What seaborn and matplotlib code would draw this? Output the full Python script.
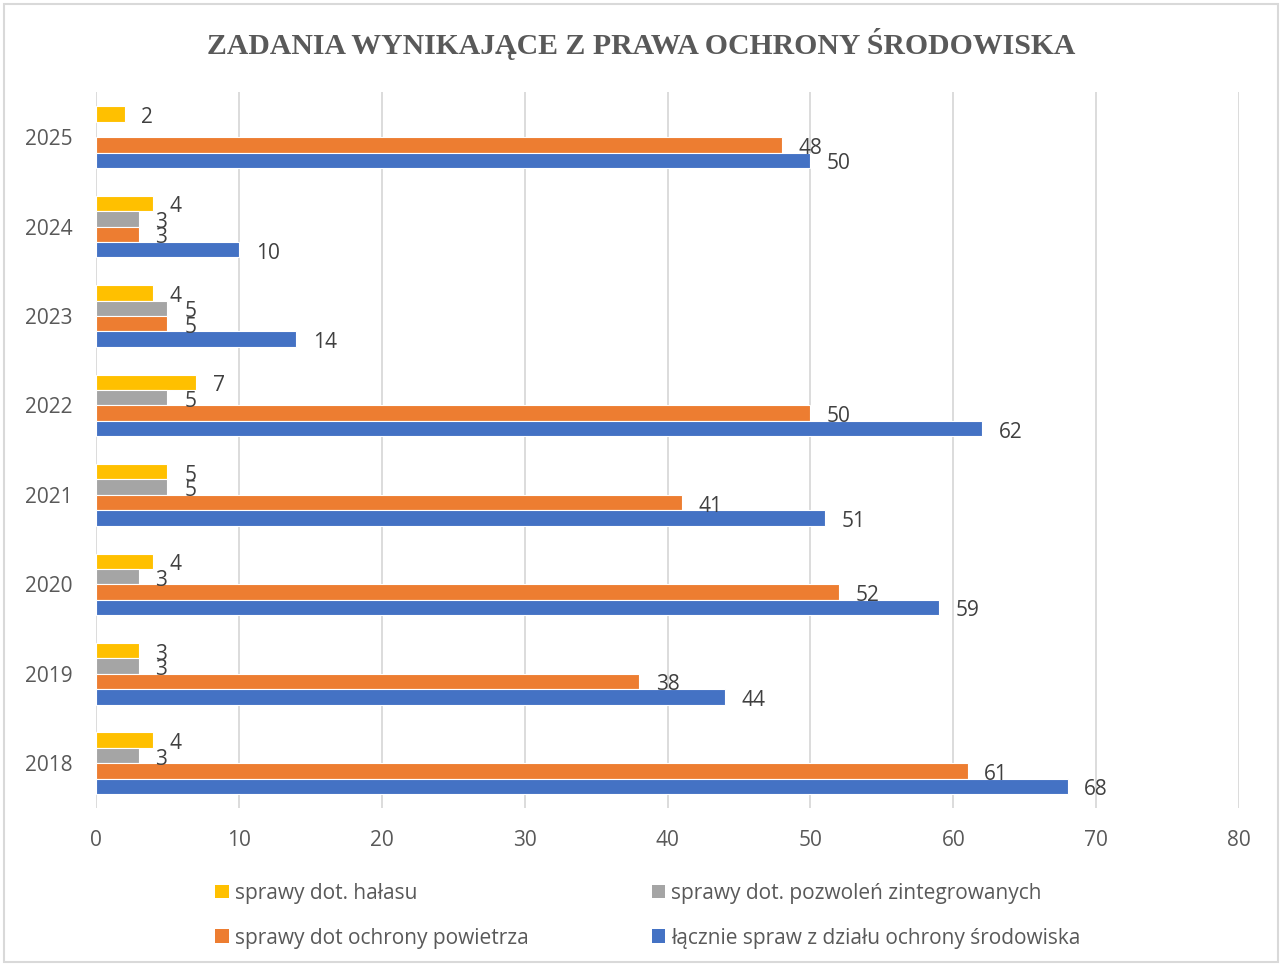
import matplotlib
matplotlib.use("Agg")
import matplotlib.pyplot as plt
import matplotlib.patches as mpatches
import seaborn as sns
import pandas as pd
import numpy as np

# --- data -----------------------------------------------------------------
years = ["2025", "2024", "2023", "2022", "2021", "2020", "2019", "2018"]
series = [
    "sprawy dot. hałasu",
    "sprawy dot. pozwoleń zintegrowanych",
    "sprawy dot ochrony powietrza",
    "łącznie spraw z działu ochrony środowiska",
]
halas = [2, 4, 4, 7, 5, 4, 3, 4]
pozwolenia = [np.nan, 3, 5, 5, 5, 3, 3, 3]
powietrze = [48, 3, 5, 50, 41, 52, 38, 61]
lacznie = [50, 10, 14, 62, 51, 59, 44, 68]
x_ticks = [0, 10, 20, 30, 40, 50, 60, 70, 80]

colors = ["#FFC000", "#A5A5A5", "#ED7D31", "#4472C4"]

rows = []
for name, vals in zip(series, [halas, pozwolenia, powietrze, lacznie]):
    for y, v in zip(years, vals):
        if not np.isnan(v):
            rows.append({"rok": y, "seria": name, "liczba": v})
df = pd.DataFrame(rows)

# --- figure ---------------------------------------------------------------
sns.set_theme(style="white")
plt.rcParams["font.family"] = ["Open Sans", "DejaVu Sans"]

fig = plt.figure(figsize=(12.82, 9.66), dpi=100)
ax = fig.add_axes([0.0749, 0.1636, 0.8916, 0.7407])

sns.barplot(
    data=df, y="rok", x="liczba", hue="seria",
    order=years, hue_order=series, palette=colors, saturation=1,
    orient="h", width=0.69, errorbar=None,
    edgecolor="white", linewidth=0.8, ax=ax, legend=False,
)

text_col = "#404040"
tick_col = "#595959"
for cont in ax.containers:
    anns = ax.bar_label(cont, fmt="%g", padding=12, fontsize=15, color=text_col)
    for a in anns:
        a.xyann = (12, -2.5)

ax.set_xlim(0, 80)
ax.set_xticks(x_ticks)
ax.set_xticklabels([str(t) for t in x_ticks])
ax.set_xlabel("")
ax.set_ylabel("")
ax.grid(axis="x", color="#D9D9D9", linewidth=1.3)
ax.grid(axis="y", visible=False)
ax.set_axisbelow(True)
for s in ax.spines.values():
    s.set_visible(False)
ax.tick_params(axis="x", length=0, pad=16, labelsize=15, labelcolor=tick_col)
ax.tick_params(axis="y", length=0, pad=17, labelsize=15, labelcolor=tick_col)

fig.text(0.5, 0.954, "ZADANIA WYNIKAJĄCE Z PRAWA OCHRONY ŚRODOWISKA",
         ha="center", va="center", fontsize=21.4, fontweight="bold",
         color="#595959", family=["Liberation Serif", "DejaVu Serif"])

# legend in two rows, filled column-wise
order = [0, 2, 1, 3]
handles = [mpatches.Patch(facecolor=colors[i], edgecolor="none") for i in order]
labels = [series[i] for i in order]
fig.legend(handles, labels, ncol=2, loc="center", bbox_to_anchor=(0.5055, 0.052),
           frameon=False, fontsize=15, labelcolor=tick_col,
           handlelength=0.65, handleheight=0.65, handletextpad=0.3,
           columnspacing=5.9, labelspacing=1.15)

# thin outer frame
fig.patches.append(mpatches.Rectangle((0.003, 0.004), 0.994, 0.992,
                                      transform=fig.transFigure, fill=False,
                                      edgecolor="#D9D9D9", linewidth=1.5))

fig.savefig("out.png", dpi=100, facecolor="white")
